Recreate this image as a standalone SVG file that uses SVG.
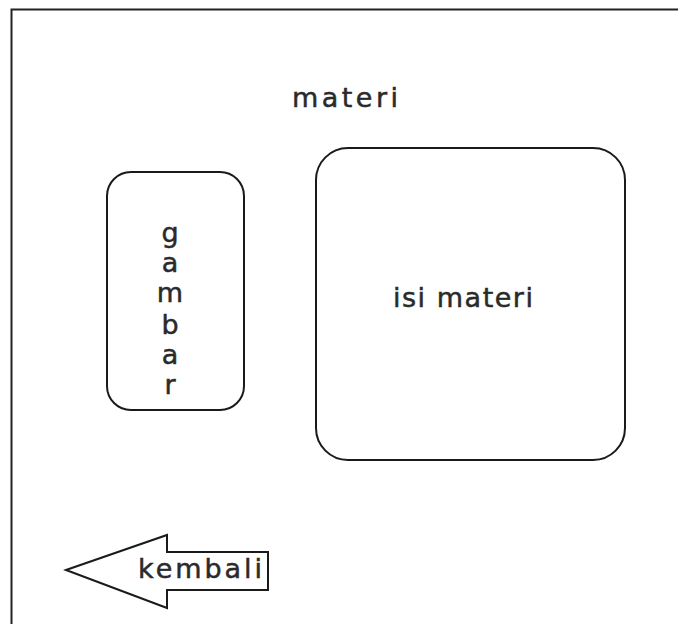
<svg xmlns="http://www.w3.org/2000/svg" width="678" height="624" viewBox="0 0 678 624">
<style>
.box{fill:none;stroke:#1a1a1a;stroke-width:2}
.t{font-family:"DejaVu Sans","Open Sans",sans-serif;font-size:27px;fill:#2a2a2a;stroke:#2a2a2a;stroke-width:0.5}
</style>
<rect width="678" height="624" fill="#fff"/>
<path d="M11.5 624 V9.5 H678" fill="none" stroke="#222" stroke-width="2"/>
<g id="title"><text class="t" x="292" y="107" textLength="106" lengthAdjust="spacing">materi</text></g>
<g id="gambar">
<rect class="box" x="107" y="172" width="137" height="238" rx="24" ry="24"/>
<text class="t" text-anchor="middle"><tspan x="170" y="242">g</tspan><tspan x="170" y="272">a</tspan><tspan x="170" y="302">m</tspan><tspan x="170" y="334">b</tspan><tspan x="170" y="364">a</tspan><tspan x="170" y="394">r</tspan></text>
</g>
<g id="isi">
<rect class="box" x="316" y="148" width="309" height="312" rx="32" ry="32"/>
<text class="t" x="393" y="307" textLength="140" lengthAdjust="spacing">isi materi</text>
</g>
<g id="connectors"></g>
<g id="kembali">
<path class="box" d="M66 570 L167 535 V552 H268 V590 H167 V608 Z" stroke-width="1.5"/>
<text class="t" x="138" y="578" textLength="124" lengthAdjust="spacing">kembali</text>
</g>
</svg>
